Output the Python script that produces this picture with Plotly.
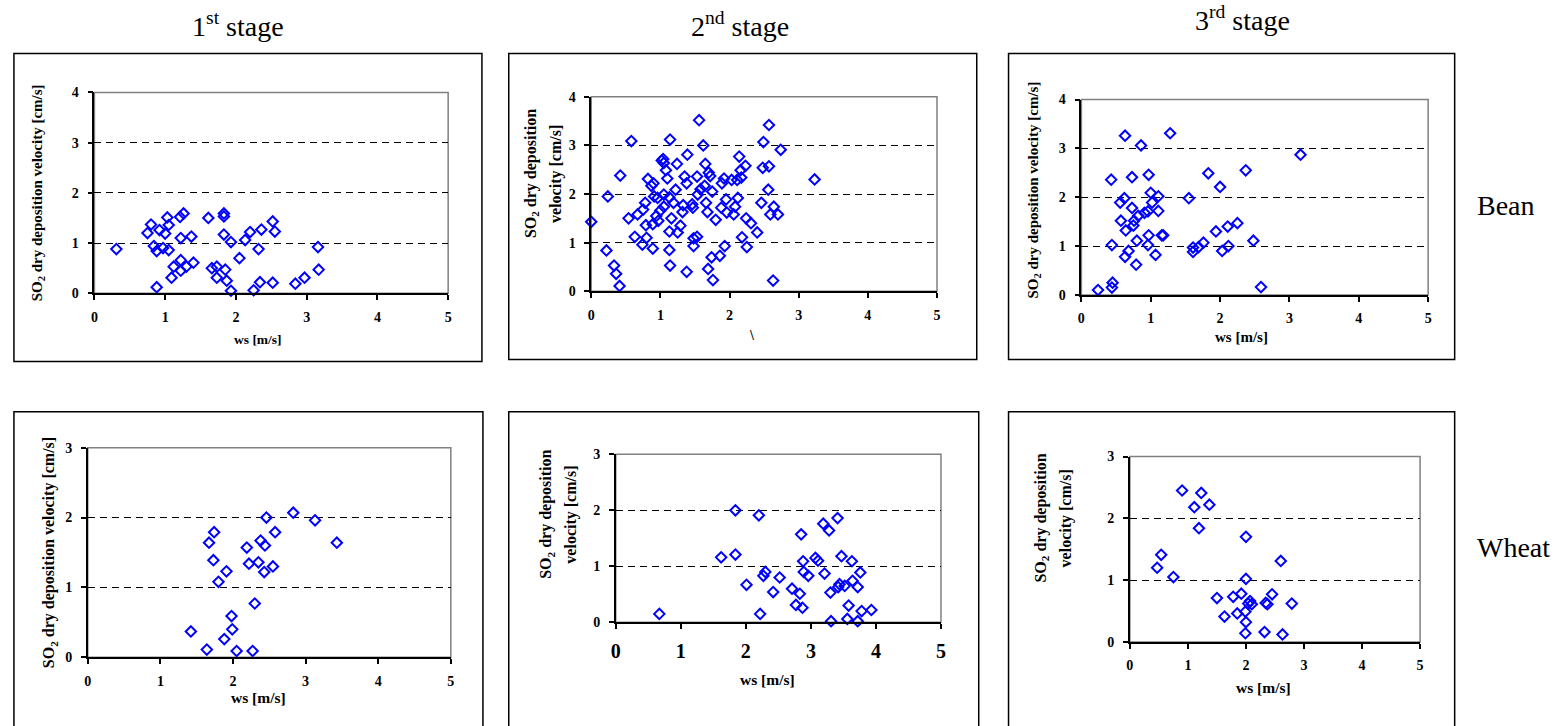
import plotly.graph_objects as go

W, H = 1563, 726

# ---- data: wind speed (m/s) vs SO2 dry deposition velocity (cm/s) ----
bean_s1_ws = [0.31, 0.75, 0.80, 0.84, 0.88, 0.88, 0.92, 0.97, 1.00, 1.03, 1.05, 1.05, 1.09, 1.12,
              1.21, 1.22, 1.22, 1.22, 1.26, 1.30, 1.37, 1.40, 1.61, 1.66, 1.73, 1.73, 1.83, 1.83,
              1.83, 1.85, 1.87, 1.93, 1.93, 2.05, 2.13, 2.20, 2.25, 2.32, 2.34, 2.36, 2.52, 2.55,
              2.52, 2.84, 2.97, 3.16, 3.17]
bean_s1_vd = [0.88, 1.20, 1.37, 0.94, 0.84, 0.12, 1.26, 0.90, 1.19, 1.51, 1.36, 0.86, 0.31, 0.53,
              1.52, 1.10, 0.66, 0.45, 1.59, 0.53, 1.13, 0.61, 1.50, 0.50, 0.53, 0.31, 1.59, 1.53,
              1.17, 0.47, 0.25, 1.02, 0.05, 0.70, 1.06, 1.22, 0.06, 0.88, 0.22, 1.27, 1.43, 1.23,
              0.21, 0.19, 0.31, 0.92, 0.47]

bean_s2_ws = [0.00, 0.24, 0.22, 0.33, 0.36, 0.41, 0.42, 0.54, 0.58, 0.63, 0.67, 0.74, 0.75, 0.78,
              0.80, 0.79, 0.82, 0.87, 0.90, 0.89, 0.89, 0.91, 0.94, 0.96, 0.97, 1.00, 1.02, 1.04,
              1.05, 1.05, 1.05, 1.08, 1.10, 1.13, 1.13, 1.13, 1.14, 1.14, 1.16, 1.19, 1.22, 1.24,
              1.25, 1.29, 1.32, 1.33, 1.35, 1.38, 1.39, 1.38, 1.46, 1.47, 1.48, 1.48, 1.53, 1.53,
              1.54, 1.56, 1.58, 1.62, 1.65, 1.64, 1.66, 1.68, 1.69, 1.70, 1.72, 1.75, 1.74, 1.76,
              1.80, 1.86, 1.88, 1.89, 1.92, 1.93, 1.95, 1.96, 2.03, 2.06, 2.08, 2.11, 2.12, 2.14,
              2.16, 2.17, 2.18, 2.23, 2.24, 2.25, 2.31, 2.40, 2.46, 2.48, 2.49, 2.57, 2.57, 2.56,
              2.59, 2.63, 2.64, 2.70, 2.74, 3.23]
bean_s2_vd = [1.43, 1.95, 0.84, 0.53, 0.36, 0.11, 2.38, 1.50, 3.09, 1.12, 1.58, 0.96, 1.68, 1.82,
              1.10, 1.36, 2.31, 2.17, 2.22, 0.88, 1.38, 1.95, 1.55, 1.92, 1.45, 1.66, 2.69, 2.72,
              2.64, 1.99, 1.74, 2.49, 2.32, 1.93, 1.23, 0.85, 3.12, 0.53, 1.50, 1.82, 2.09, 2.62,
              1.21, 1.35, 1.63, 1.77, 2.36, 2.22, 2.81, 0.40, 1.79, 1.72, 0.93, 1.09, 1.12, 2.36,
              1.99, 3.52, 2.10, 3.00, 2.62, 2.17, 1.82, 1.63, 0.46, 2.44, 2.37, 2.05, 0.70, 0.23,
              1.47, 0.73, 1.72, 2.22, 2.32, 0.93, 1.89, 1.62, 2.29, 1.58, 1.74, 2.29, 1.92, 2.77,
              2.49, 2.34, 1.11, 2.58, 1.50, 0.91, 1.40, 1.21, 1.82, 2.54, 3.07, 3.42, 2.57, 2.09,
              1.58, 0.22, 1.74, 1.58, 2.91, 2.30]

bean_s3_ws = [0.24, 0.43, 0.44, 0.44, 0.45, 0.56, 0.57, 0.63, 0.62, 0.64, 0.63, 0.68, 0.73, 0.73,
              0.75, 0.76, 0.79, 0.80, 0.82, 0.86, 0.91, 0.96, 0.97, 0.97, 0.96, 1.00, 1.02, 1.07,
              1.11, 1.11, 1.16, 1.18, 1.28, 1.55, 1.61, 1.61, 1.69, 1.76, 1.83, 1.94, 2.00, 2.03,
              2.11, 2.12, 2.25, 2.37, 2.48, 2.59, 3.16]
bean_s3_vd = [0.10, 2.36, 1.02, 0.15, 0.25, 1.89, 1.52, 3.26, 1.98, 1.32, 0.78, 0.90, 2.41, 1.78,
              1.42, 1.52, 0.62, 1.11, 1.62, 3.06, 1.68, 1.71, 2.46, 1.22, 1.02, 2.09, 1.89, 0.82,
              2.02, 1.72, 1.22, 1.22, 3.31, 1.98, 0.88, 0.97, 0.98, 1.07, 2.49, 1.30, 2.21, 0.90,
              1.40, 1.00, 1.47, 2.55, 1.11, 0.16, 2.87]

wheat_s1_ws = [1.42, 1.64, 1.67, 1.73, 1.74, 1.80, 1.88, 1.91, 1.98, 1.99, 2.05, 2.19, 2.22, 2.27,
               2.30, 2.35, 2.38, 2.43, 2.44, 2.46, 2.55, 2.58, 2.83, 3.13, 3.43]
wheat_s1_vd = [0.37, 0.11, 1.64, 1.39, 1.79, 1.08, 0.26, 1.23, 0.59, 0.40, 0.09, 1.57, 1.34, 0.09,
               0.77, 1.36, 1.67, 1.22, 1.60, 2.00, 1.30, 1.79, 2.07, 1.96, 1.64]

wheat_s2_ws = [0.67, 1.62, 1.84, 1.84, 2.01, 2.20, 2.22, 2.27, 2.30, 2.52, 2.42, 2.71, 2.77, 2.83,
               2.85, 2.87, 2.88, 2.89, 2.96, 3.07, 3.11, 3.19, 3.21, 3.28, 3.30, 3.31, 3.41, 3.42,
               3.44, 3.47, 3.52, 3.56, 3.58, 3.63, 3.64, 3.72, 3.72, 3.76, 3.78, 3.93]
wheat_s2_vd = [0.15, 1.16, 2.00, 1.21, 0.67, 1.91, 0.15, 0.83, 0.90, 0.80, 0.54, 0.60, 0.31, 0.51,
               1.57, 0.26, 1.09, 0.90, 0.83, 1.15, 1.10, 1.76, 0.87, 1.64, 0.53, 0.02, 1.86, 0.63,
               0.68, 1.18, 0.65, 0.06, 0.30, 1.09, 0.74, 0.63, 0.02, 0.89, 0.20, 0.22]

wheat_s3_ws = [0.47, 0.54, 0.75, 0.90, 1.11, 1.23, 1.19, 1.37, 1.50, 1.63, 1.78, 1.85, 1.92, 1.99,
               2.00, 2.00, 2.00, 1.99, 2.04, 2.07, 2.10, 2.32, 2.34, 2.37, 2.45, 2.60, 2.63, 2.79]
wheat_s3_vd = [1.20, 1.41, 1.05, 2.45, 2.18, 2.41, 1.84, 2.22, 0.71, 0.41, 0.73, 0.46, 0.78, 0.14,
               1.70, 1.02, 0.32, 0.49, 0.62, 0.66, 0.61, 0.16, 0.63, 0.61, 0.77, 1.31, 0.12, 0.62]

stage_titles = ["1<sup>st</sup> stage", "2<sup>nd</sup> stage", "3<sup>rd</sup> stage"]
crop_labels = ["Bean", "Wheat"]
x_ticks = [0, 1, 2, 3, 4, 5]

SERIF = "Liberation Serif"
BLUE = "#0000FF"


def px(x):
    return x / W


def py(y):
    return 1 - y / H


# panel layout in pixels: plot area (x0, x1, ytop, ybottom), frame box, y max,
# tick font sizes, axis title geometry
panels = [
    dict(ws=bean_s1_ws, vd=bean_s1_vd, plot=(90, 446, 87.3, 292.3), box=(9, 480, 47.5, 362),
         ymax=4, xtick=14, ytick=14, xt=("ws [m/s]", 255, 340, 13.5),
         yt=(["SO<sub>2</sub> dry deposition velocity [cm/s]"], [33], 189.5, 15)),
    dict(ws=bean_s2_ws, vd=bean_s2_vd, plot=(590, 938, 91.7, 290.3), box=(507, 978, 47.5, 360),
         ymax=4, xtick=14, ytick=14, xt=("\\", 752, 335, 14),
         yt=(["SO<sub>2</sub> dry deposition", "velocity [cm/s]"], [530, 555], 170, 16)),
    dict(ws=bean_s3_ws, vd=bean_s3_vd, plot=(1083.3, 1432.3, 94.5, 294), box=(1010, 1459, 47.5, 360),
         ymax=4, xtick=14, ytick=14, xt=("ws [m/s]", 1244, 337, 15),
         yt=(["SO<sub>2</sub> dry deposition velocity [cm/s]"], [1036], 187, 15)),
    dict(ws=wheat_s1_ws, vd=wheat_s1_vd, plot=(83.3, 448.7, 450, 664), box=(9, 481, 413.3, 760),
         ymax=3, xtick=14, ytick=14, xt=("ws [m/s]", 255, 705, 15.5),
         yt=(["SO<sub>2</sub> dry deposition velocity [cm/s]"], [45], 557, 16)),
    dict(ws=wheat_s2_ws, vd=wheat_s2_vd, plot=(614.7, 942, 456.7, 628.3), box=(507, 980, 413.3, 760),
         ymax=3, xtick=20, ytick=14, xt=("ws [m/s]", 767, 687, 15.5),
         yt=(["SO<sub>2</sub> dry deposition", "velocity [cm/s]"], [545, 570], 518, 16)),
    dict(ws=wheat_s3_ws, vd=wheat_s3_vd, plot=(1132.1, 1424.2, 459, 648.3), box=(1010, 1459, 413.3, 760),
         ymax=3, xtick=14, ytick=14, xt=("ws [m/s]", 1267, 695, 15.5),
         yt=(["SO<sub>2</sub> dry deposition", "velocity [cm/s]"], [1043, 1068], 522, 16)),
]

fig = go.Figure()
layout = dict(
    width=W, height=H, margin=dict(l=0, r=0, t=0, b=0),
    paper_bgcolor="white", plot_bgcolor="white", showlegend=False,
    font=dict(family=SERIF, color="black"),
)
shapes = []
annotations = []

for i, p in enumerate(panels, start=1):
    sx = "" if i == 1 else str(i)
    x0, x1, yt_, yb = p["plot"]
    layout["xaxis" + sx] = dict(
        domain=[px(x0), px(x1)], anchor="y" + sx, range=[0, 5], tickmode="array",
        tickvals=x_ticks, showline=True, linecolor="black", linewidth=1.5,
        ticks="outside", ticklen=5, tickwidth=1.5, tickcolor="black",
        showgrid=False, zeroline=False, ticklabelstandoff=5,
        tickfont=dict(family=SERIF, size=p["xtick"], color="black", weight="bold"),
    )
    layout["yaxis" + sx] = dict(
        domain=[py(yb), py(yt_)], anchor="x" + sx, range=[0, p["ymax"]],
        tickmode="array", tickvals=list(range(p["ymax"] + 1)),
        showline=True, linecolor="black", linewidth=1.5,
        ticks="outside", ticklen=5, tickwidth=1.5, tickcolor="black",
        showgrid=True, gridcolor="black", gridwidth=1, griddash="7px,5px",
        zeroline=False, ticklabelstandoff=6,
        tickfont=dict(family=SERIF, size=p["ytick"], color="black", weight="bold"),
    )
    fig.add_trace(go.Scatter(
        x=p["ws"], y=p["vd"], mode="markers", xaxis="x" + sx, yaxis="y" + sx,
        cliponaxis=False,
        marker=dict(symbol="diamond-open", size=8, color=BLUE, line=dict(color=BLUE, width=2)),
    ))
    # plot-area border (top / right)
    shapes.append(dict(type="rect", xref="x" + sx + " domain", yref="y" + sx + " domain",
                       x0=0, x1=1, y0=0, y1=1, line=dict(color="#808080", width=1.5),
                       layer="below"))
    # chart frame
    bx0, bx1, by0, by1 = p["box"]
    shapes.append(dict(type="rect", xref="paper", yref="paper",
                       x0=px(bx0), x1=px(bx1), y0=py(by1), y1=py(by0),
                       line=dict(color="black", width=1.5), layer="below"))
    # axis titles
    t, tx, ty, ts = p["xt"]
    annotations.append(dict(text="<b>" + t + "</b>", x=px(tx), y=py(ty), xref="paper",
                             yref="paper", showarrow=False, xanchor="center", yanchor="middle",
                             font=dict(family=SERIF, size=ts, color="black")))
    lines, lxs, ly, ls = p["yt"]
    for line, lx in zip(lines, lxs):
        annotations.append(dict(text="<b>" + line + "</b>", x=px(lx), y=py(ly), xref="paper",
                                yref="paper", showarrow=False, textangle=-90,
                                xanchor="center", yanchor="middle",
                                font=dict(family=SERIF, size=ls, color="black")))

# stage headings and crop labels
for t, cx, cy in zip(stage_titles, [234, 740, 1245], [18, 18, 12]):
    annotations.append(dict(text=t, x=px(cx), y=py(cy), xref="paper", yref="paper",
                            showarrow=False, xanchor="center", yanchor="middle",
                            font=dict(family=SERIF, size=28, color="black")))
for t, cx, cy in zip(crop_labels, [1511, 1518], [203, 552]):
    annotations.append(dict(text=t, x=px(cx), y=py(cy), xref="paper", yref="paper",
                            showarrow=False, xanchor="center", yanchor="middle",
                            font=dict(family=SERIF, size=28, color="black")))

layout["shapes"] = shapes
layout["annotations"] = annotations
fig.update_layout(**layout)
fig.write_html("out.html")
